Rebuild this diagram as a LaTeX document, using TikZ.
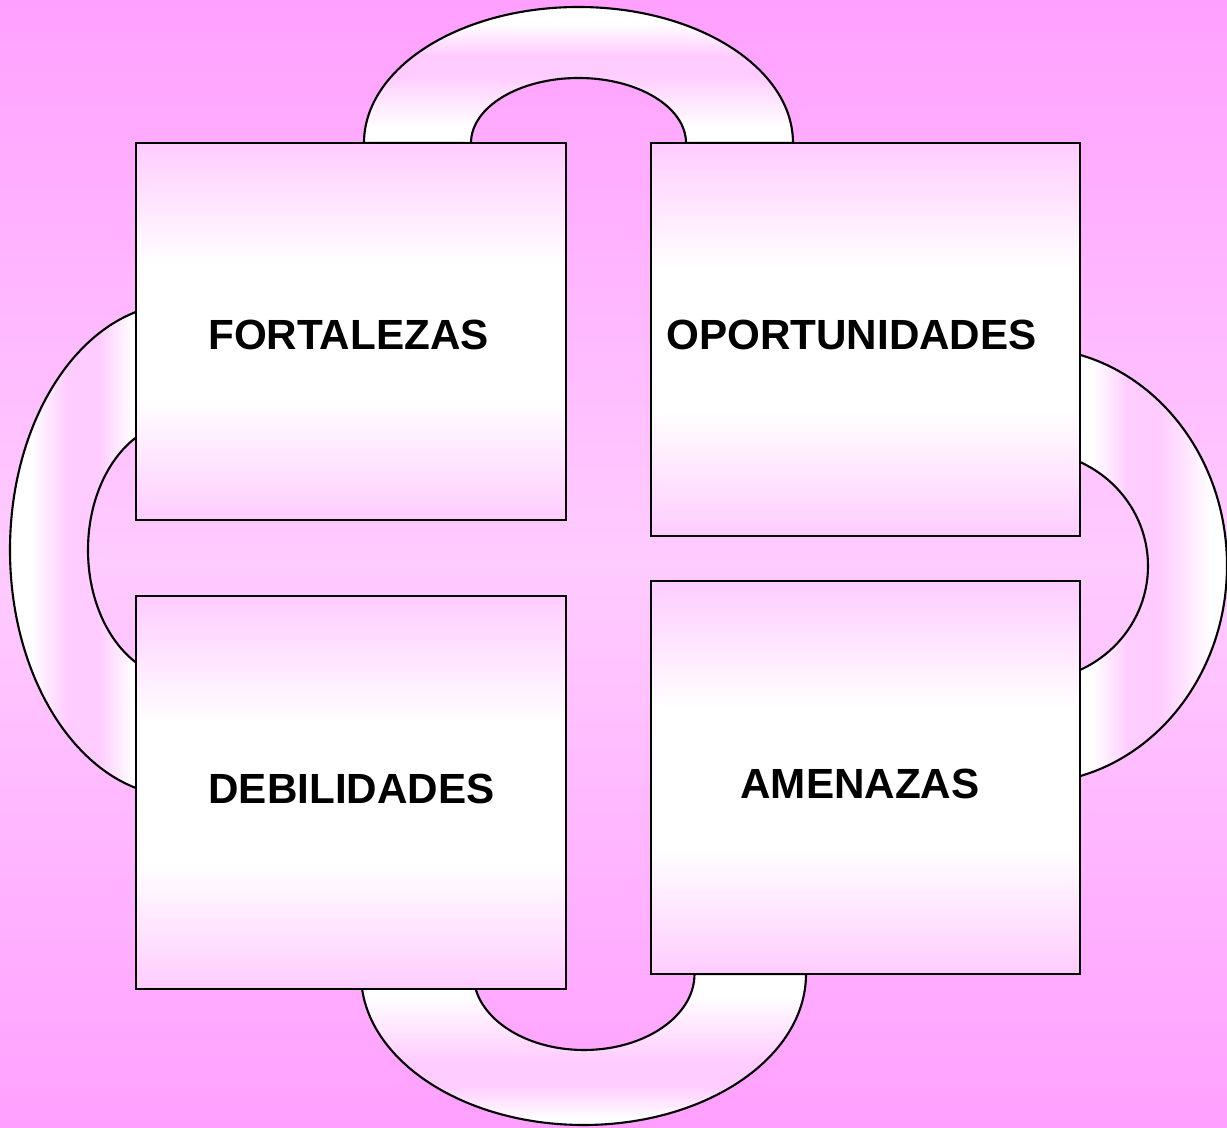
\documentclass[tikz,border=0pt]{standalone}
\usepackage{fontspec}
\setmainfont{Liberation Sans}
\definecolor{fondo}{HTML}{FFA0FF}
\definecolor{fondomedio}{HTML}{FFCCFF}
\definecolor{rosa}{HTML}{FFCCFF}
\pgfdeclarehorizontalshading{arcoizq}{100bp}{color(0bp)=(white); color(31bp)=(white); color(42bp)=(rosa); color(51bp)=(rosa); color(61bp)=(white); color(100bp)=(white)}
\pgfdeclarehorizontalshading{arcoder}{100bp}{color(0bp)=(white); color(41bp)=(white); color(50bp)=(rosa); color(58bp)=(rosa); color(71bp)=(white); color(100bp)=(white)}
\pgfdeclareverticalshading{arcosup}{100bp}{color(0bp)=(white); color(31bp)=(white); color(50bp)=(rosa); color(57bp)=(rosa); color(69bp)=(white); color(100bp)=(white)}
\pgfdeclareverticalshading{arcoinf}{100bp}{color(0bp)=(white); color(27bp)=(white); color(38bp)=(rosa); color(46bp)=(rosa); color(68bp)=(white); color(100bp)=(white)}
\pgfdeclareverticalshading{caja}{100bp}{color(0bp)=(rosa); color(25bp)=(rosa); color(41bp)=(white); color(59bp)=(white); color(75bp)=(rosa); color(100bp)=(rosa)}
\begin{document}
\begin{tikzpicture}[x=0.01cm, y=0.01cm, line width=0.6pt,
  cuadro/.style={draw, rectangle, inner sep=0pt, shading=caja},
  rotulo/.style={font=\fontsize{12}{14}\selectfont\bfseries}]
\fill[top color=fondo, bottom color=fondo, middle color=fondomedio] (0,0) rectangle (1227,1127);
\useasboundingbox (0,0) rectangle (1227,1127);
% arcos
\path[draw, shading=arcosup] (793,984) arc[start angle=0, end angle=180, x radius=214.5, y radius=136]
  -- (471,984) arc[start angle=180, end angle=0, x radius=107.5, y radius=65] -- cycle;
\path[draw, shading=arcoinf] (361,153) arc[start angle=180, end angle=360, x radius=222.5, y radius=151]
  -- (694.5,153) arc[start angle=360, end angle=180, x radius=110.5, y radius=76] -- cycle;
\path[draw, shading=arcoizq] (180,823.4) arc[start angle=90, end angle=270, x radius=170, y radius=246.4]
  -- (180,448.9) arc[start angle=270, end angle=90, x radius=92, y radius=128.1] -- cycle;
\path[draw, shading=arcoder] (1030,779.2) arc[start angle=90, end angle=-90, x radius=197, y radius=217.7]
  -- (1030,446.2) arc[start angle=-90, end angle=90, x radius=118, y radius=114.8] -- cycle;
% cuadros
\node[cuadro, minimum width=4.30cm, minimum height=3.77cm] (C_0_0) at (351,795.5) {};
\node[cuadro, minimum width=4.29cm, minimum height=3.93cm] (C_1_0) at (865.5,787.5) {};
\node[cuadro, minimum width=4.30cm, minimum height=3.93cm] (C_0_1) at (351,334.5) {};
\node[cuadro, minimum width=4.29cm, minimum height=3.93cm] (C_1_1) at (865.5,349.5) {};
\node[rotulo] (T_0_0) at (348.5,792) {FORTALEZAS};
\node[rotulo] (T_1_0) at (851.5,792) {OPORTUNIDADES};
\node[rotulo] (T_0_1) at (351.5,338) {DEBILIDADES};
\node[rotulo] (T_1_1) at (860,343) {AMENAZAS};
\end{tikzpicture}
\end{document}
